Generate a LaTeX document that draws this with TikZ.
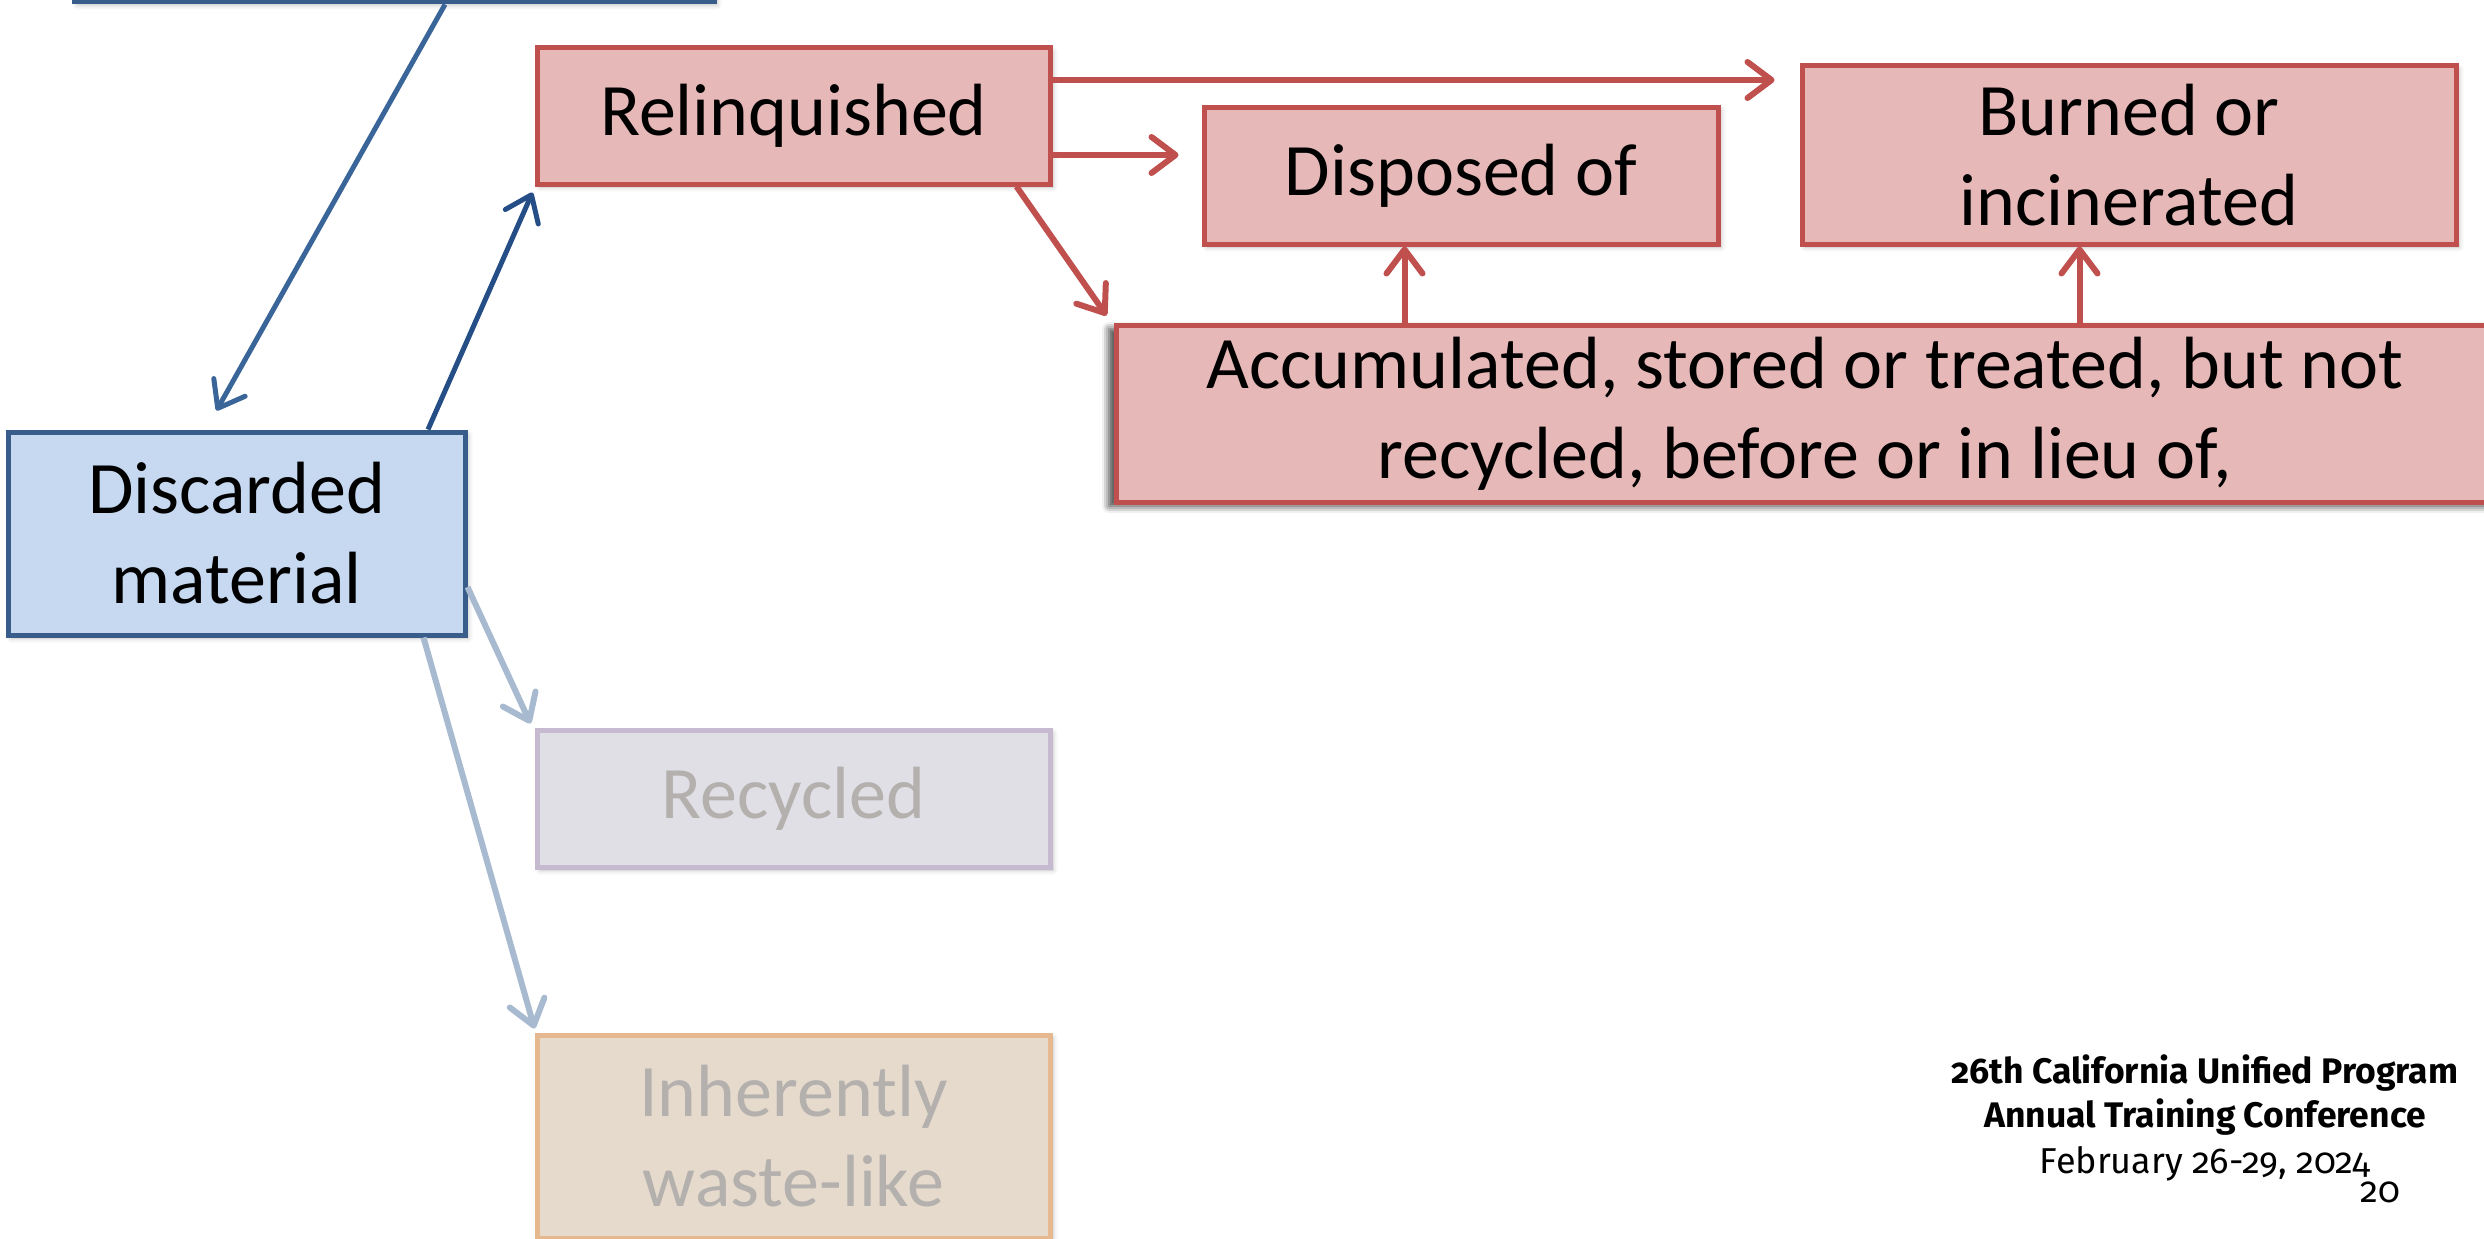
\documentclass[tikz,border=0pt]{standalone}
\usepackage{fontspec}
\setmainfont{Carlito}
\newfontfamily\confont{Fira Sans}[Numbers=OldStyle]
\usetikzlibrary{arrows.meta,calc,shadows.blur}

\definecolor{redline}{HTML}{C0504D}
\definecolor{redfill}{HTML}{E6B9B8}
\definecolor{blueline}{HTML}{385D8A}
\definecolor{bluefill}{HTML}{C6D9F1}
\definecolor{bluearrowA}{HTML}{3A6599}
\definecolor{bluearrowB}{HTML}{254E86}
\definecolor{paleline}{HTML}{A8BAD0}
\definecolor{recline}{HTML}{C6BAD0}
\definecolor{recfill}{HTML}{E0DFE5}
\definecolor{inhline}{HTML}{E6B890}
\definecolor{inhfill}{HTML}{E6DACD}
\definecolor{paletext}{HTML}{B3B0AD}

\tikzset{
  box/.style={rectangle, line width=5pt, inner sep=0pt, align=center,
    font=\fontsize{74}{90}\selectfont,
    blur shadow={shadow xshift=3pt, shadow yshift=-3pt, shadow blur radius=5pt, shadow opacity=25}},
  redbox/.style={box, draw=redline, fill=redfill},
  bluebox/.style={box, draw=blueline, fill=bluefill},
  recbox/.style={box, draw=recline, fill=recfill, text=paletext},
  inhbox/.style={box, draw=inhline, fill=inhfill, text=paletext},
  tipbarb/.style={-{Straight Barb[length=24pt, width=36pt, round]}},
  redarrow/.style={tipbarb, draw=redline, line width=6pt},
  bluearrow/.style={tipbarb, line width=5pt},
  palearrow/.style={tipbarb, draw=paleline, line width=6pt},
  conftext/.style={anchor=base, inner sep=0pt, font=\confont\fontsize{36}{44}\selectfont},
  confbold/.style={conftext, font=\confont\bfseries\fontsize{35.5}{44}\selectfont}
}

\begin{document}
\begin{tikzpicture}[x=1pt, y=-1pt]
  \useasboundingbox (0,0) rectangle (2484,1239);
  \clip (0,0) rectangle (2484,1239);

  % boxes
  \node[bluebox, minimum width=640pt, minimum height=202pt] (top) at (394,-99) {};
  \node[redbox, minimum width=513pt, minimum height=136pt] (rel) at (793.5,116) {Relinquished};
  \node[redbox, minimum width=514pt, minimum height=137pt] (disp) at (1461,175.5) {Disposed of};
  \node[redbox, minimum width=654pt, minimum height=178pt] (burn) at (2129,155) {Burned or\\incinerated};
  \node[redbox, minimum width=1378pt, minimum height=177pt,
        blur shadow={shadow xshift=-7pt, shadow yshift=-4pt, shadow blur radius=7pt, shadow opacity=45}]
        (acc) at (1805,413.5) {Accumulated, stored or treated, but not\\recycled, before or in lieu of,};
  \node[bluebox, minimum width=457pt, minimum height=203pt] (disc) at (236.5,533.5) {Discarded\\material};
  \node[recbox, minimum width=513pt, minimum height=137pt] (rec) at (793.5,798.5) {Recycled};
  \node[inhbox, minimum width=513pt, minimum height=203pt] (inh) at (793.5,1136.5) {Inherently\\waste-like};

  % connectors
  \draw[bluearrow, draw=bluearrowA] ($(top.south)+(51,0)$) -- ($(disc.north)+(-20,-19)$);
  \draw[bluearrow, draw=bluearrowB] ($(disc.north)+(191.5,0)$) -- ($(rel.south west)+(-2,6)$);
  \draw[redarrow, shorten >=25pt] ($(rel.east)+(0,-36)$) coordinate (r1) -- (r1 -| burn.west);
  \draw[redarrow, shorten >=23pt] ($(rel.east)+(0,39)$) coordinate (r2) -- (r2 -| disp.west);
  \draw[redarrow] ($(rel.south east)+(-36,0)$) -- ($(acc.north west)+(-7,-7)$);
  \draw[redarrow] ($(acc.north west)+(291,0)$) coordinate (a1) -- (a1 |- disp.south);
  \draw[redarrow] ($(acc.north west)+(966,0)$) coordinate (a2) -- (a2 |- burn.south);
  \draw[palearrow] ($(disc.east)+(0,53.5)$) -- ($(rec.north west)+(-4,-4)$);
  \draw[palearrow] ($(disc.south east)+(-44,0)$) -- ($(inh.north west)+(0,-4)$);

  % conference footer
  \node[confbold] (conf1) at (2205,1083) {26th California Unified Program};
  \node[confbold] (conf2) at (2205,1127) {Annual Training Conference};
  \node[conftext] (conf3) at (2205,1173) {February 26-29, 2024};
  \node[conftext] (page) at (2380,1202) {20};
\end{tikzpicture}
\end{document}
